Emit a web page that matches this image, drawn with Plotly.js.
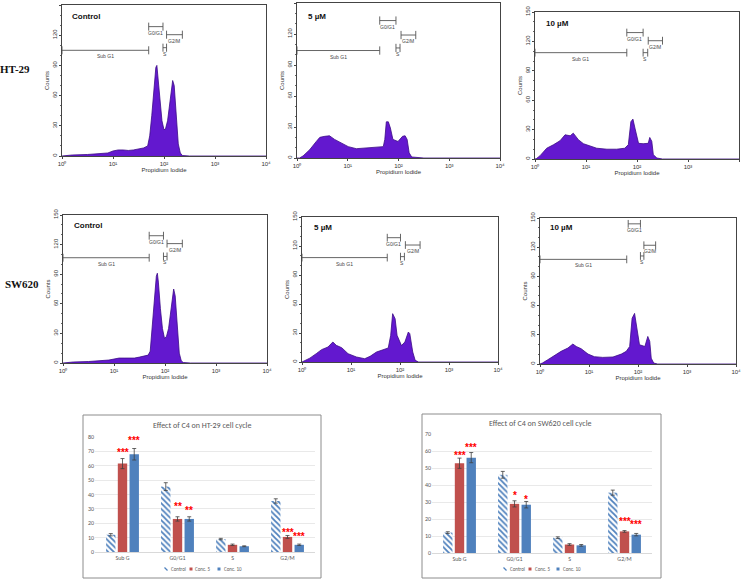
<!DOCTYPE html>
<html><head><meta charset="utf-8">
<script src="https://cdn.plot.ly/plotly-3.0.1.min.js"></script>
<style>html,body{margin:0;padding:0;background:#fff}#chart{width:743px;height:582px}</style>
</head><body><div id="chart"></div>
<script>
// ---------- Flow cytometry histograms (x = log10 of Propidium Iodide channel, y = counts) ----------
const ht29CtrlLogPI = [0,0.2,0.5,0.7,0.9,1.0,1.1,1.2,1.3,1.4,1.5,1.6,1.68,1.72,1.76,1.8,1.84,1.86,1.88,1.92,1.96,2.0,2.03,2.07,2.1,2.14,2.17,2.2,2.24,2.28,2.32,2.36,2.5,4];
const ht29CtrlCounts = [0,1,1.5,2,3,5,6,6,5.5,6,7,8,10,20,40,65,88,90,80,55,35,26,27,35,48,65,75,70,40,12,3,0.5,0,0];

const ht29C5LogPI = [0,0.05,0.12,0.25,0.38,0.45,0.55,0.64,0.74,0.88,1.01,1.17,1.37,1.57,1.70,1.73,1.76,1.80,1.84,1.89,1.99,2.08,2.13,2.17,2.21,2.26,2.36,2.5,4];
const ht29C5Counts = [0,0,2,8,16,20,21,21.5,18,14,11,9,10,11,11,18,35,35,29,18,16,21,21.5,18,5,1,0.5,0,0];

const ht29C10LogPI = [0,0.03,0.1,0.23,0.36,0.49,0.59,0.69,0.75,0.85,0.95,1.08,1.21,1.41,1.6,1.76,1.83,1.88,1.92,1.96,2.03,2.12,2.22,2.25,2.29,2.32,2.39,2.5,4];
const ht29C10Counts = [0,0.5,3.4,11,14.5,18.6,24.7,23.7,26.4,19.7,15.6,13,11,10,10,11,14.6,38,40.7,31.5,16,15.6,16,22,18,4.4,1,0,0];

const sw620CtrlLogPI = [0,0.2,0.5,0.7,0.9,1.0,1.1,1.2,1.3,1.4,1.5,1.6,1.67,1.71,1.75,1.79,1.83,1.85,1.87,1.91,1.95,1.99,2.03,2.07,2.1,2.14,2.17,2.2,2.24,2.28,2.32,2.36,2.5,4];
const sw620CtrlCounts = [0,1,1.5,2,3,4,5,5,5,5,6,7,8,12,35,65,88,91,82,55,35,25,27,35,48,66,75,68,38,10,2,0.5,0,0];

const sw620C5LogPI = [0,0.05,0.16,0.29,0.40,0.53,0.63,0.70,0.81,0.94,1.11,1.28,1.39,1.52,1.66,1.76,1.81,1.85,1.90,1.94,2.03,2.10,2.17,2.20,2.26,2.31,2.38,2.5,4];
const sw620C5Counts = [0,1,4,8.6,12.8,15.5,20.7,17.2,14.8,8.6,5.2,3.4,5.9,10.3,13,14.5,27.6,50,44.8,27.6,17,20.7,31,29.3,10.3,1.7,0,0,0];

const sw620C10LogPI = [0,0.05,0.16,0.29,0.43,0.57,0.67,0.74,0.84,0.98,1.11,1.28,1.49,1.66,1.76,1.83,1.88,1.93,1.98,2.03,2.14,2.20,2.24,2.27,2.32,2.4,4];
const sw620C10Counts = [0,1,4.4,8.9,13,16.4,20.5,18,15.7,10.2,7.5,6.8,7.2,10.2,13,18,47,52,36.9,19.8,18,28.3,23.2,6,1,0,0];

// Gates: [start log10, end log10, counts level] for Sub G1, G0/G1, S, G2/M
const gateNames = ['Sub G1','G0/G1','S','G2/M'];
const ht29CtrlGates  = [[0,1.70,105],[1.70,1.98,128.5],[1.98,2.05,107.6],[2.05,2.36,120.5]];
const ht29C5Gates    = [[0,1.63,104],[1.63,1.95,133],[1.95,2.03,106.5],[2.05,2.34,119]];
const ht29C10Gates   = [[0,1.80,108.5],[1.80,2.12,129],[2.12,2.21,108.5],[2.22,2.50,120.7]];
const sw620CtrlGates = [[0,1.69,106.7],[1.69,1.97,129],[1.97,2.04,108],[2.04,2.34,121]];
const sw620C5Gates   = [[0,1.74,108],[1.74,2.01,128.6],[2.01,2.09,109],[2.11,2.41,121]];
const sw620C10Gates  = [[0,1.77,107.5],[1.80,2.05,144],[2.05,2.12,111],[2.12,2.36,122]];

const panelLabels = ['Control','5 µM','10 µM','Control','5 µM','10 µM'];
const rowLabels = ['HT-29','SW620'];
const decadeTickVals = [1,10,100,1000,10000];
const decadeTickText = ['10⁰','10¹','10²','10³','10⁴'];
const countTicks = [0,30,60,90,120,150];

// ---------- Bar charts ----------
const phases = ['Sub G','G0/G1','S','G2/M'];
const seriesNames = ['Control','Conc. 5','Conc. 10'];
const ht29Control = [12,45.5,9,35.5];
const ht29Conc5   = [61.5,23,5,10.5];
const ht29Conc10  = [68,23,4,5];
const ht29ControlErr = [0.8,2.7,0.5,1.5];
const ht29Conc5Err   = [3.5,1.5,0.5,1];
const ht29Conc10Err  = [4,1.5,0.3,0.5];
const ht29Conc5Stars  = ['***','**','','***'];
const ht29Conc5StarY  = [70.7,33,0,15];
const ht29Conc10Stars = ['***','**','','***'];
const ht29Conc10StarY = [78.8,30,0,12];

const sw620Control = [12,46,9,35.5];
const sw620Conc5   = [52.8,28.9,5,12.7];
const sw620Conc10  = [56.1,28.4,4.5,10.8];
const sw620ControlErr = [0.5,2,0.5,1.5];
const sw620Conc5Err   = [3,1.8,0.5,0.5];
const sw620Conc10Err  = [3,1.9,0.5,0.7];
const sw620Conc5Stars  = ['***','*','','***'];
const sw620Conc5StarY  = [58.3,35,0,20];
const sw620Conc10Stars = ['***','*','','***'];
const sw620Conc10StarY = [63.2,32.5,0,18];

// ---------- layout helpers ----------
const W = 743, H = 582;
const px = v => v / W;
const py = v => 1 - v / H;
const HIST_FILL = '#6318cf', HIST_LINE = '#3b0a86';
const SANS = 'Liberation Sans, Arial, sans-serif';

const histPanels = [
  {lp: ht29CtrlLogPI,  c: ht29CtrlCounts,  g: ht29CtrlGates,  box:[62,266,5,156],   lab:[70,16]},
  {lp: ht29C5LogPI,    c: ht29C5Counts,    g: ht29C5Gates,    box:[297,500,3,158],  lab:[306,16]},
  {lp: ht29C10LogPI,   c: ht29C10Counts,   g: ht29C10Gates,   box:[535,739,12,159], lab:[544,24]},
  {lp: sw620CtrlLogPI, c: sw620CtrlCounts, g: sw620CtrlGates, box:[63,267,215,363], lab:[72,226]},
  {lp: sw620C5LogPI,   c: sw620C5Counts,   g: sw620C5Gates,   box:[302,498,217,362],lab:[312,228]},
  {lp: sw620C10LogPI,  c: sw620C10Counts,  g: sw620C10Gates,  box:[540,736,218,364],lab:[548,228]}
];

const data = [];
const layout = {
  width: W, height: H, margin:{l:0,r:0,t:0,b:0},
  paper_bgcolor:'#fff', plot_bgcolor:'#fff',
  showlegend: false,
  font:{family:SANS, color:'#333'},
  shapes: [], annotations: []
};

histPanels.forEach((p, i) => {
  const n = i + 1;
  const xa = 'xaxis' + n, ya = 'yaxis' + n;
  data.push({
    type:'scatter', mode:'lines', xaxis:'x'+n, yaxis:'y'+n,
    x: p.lp.map(e => Math.pow(10, e)), y: p.c,
    fill:'tozeroy', fillcolor:HIST_FILL,
    line:{color:HIST_LINE, width:0.8, shape:'linear'},
    showlegend:false, hoverinfo:'skip'
  });
  layout[xa] = {
    type:'log', range:[0,4], domain:[px(p.box[0]), px(p.box[1])], anchor:'y'+n,
    showgrid:false, zeroline:false, showline:true, mirror:true, linecolor:'#444', linewidth:1,
    ticks:'outside', ticklen:2, tickcolor:'#444',
    tickvals: decadeTickVals, ticktext: decadeTickText,
    tickfont:{size:6, color:'#333'},
    title:{text:'Propidium Iodide', font:{size:6, color:'#333'}, standoff:1}
  };
  layout[ya] = {
    range:[0,150], domain:[py(p.box[3]), py(p.box[2])], anchor:'x'+n,
    showgrid:false, zeroline:false, showline:true, mirror:true, linecolor:'#444', linewidth:1,
    ticks:'outside', ticklen:2, tickcolor:'#444',
    tickvals: countTicks, tickangle:-90,
    tickfont:{size:6, color:'#333'},
    minor:{ticks:'outside', ticklen:1, dtick:10, tickcolor:'#666'},
    title:{text:'Counts', font:{size:6, color:'#333'}, standoff:1}
  };
  // gate markers (shape coordinates on a log axis are channel values)
  p.g.forEach((gt, k) => {
    const [a, b, lvl] = gt;
    const xa0 = Math.pow(10, a), xb0 = Math.pow(10, b);
    const ln = {color:'#555', width:0.9};
    layout.shapes.push({type:'line', xref:'x'+n, yref:'y'+n, x0:xa0, x1:xb0, y0:lvl, y1:lvl, line:ln});
    layout.shapes.push({type:'line', xref:'x'+n, yref:'y'+n, x0:xa0, x1:xa0, y0:lvl-4, y1:lvl+4, line:ln});
    layout.shapes.push({type:'line', xref:'x'+n, yref:'y'+n, x0:xb0, x1:xb0, y0:lvl-4, y1:lvl+4, line:ln});
    layout.annotations.push({
      xref:'x'+n, yref:'y'+n, x:(a+b)/2, y:lvl, yanchor:'top', xanchor:'center', yshift:-1,
      text:gateNames[k], showarrow:false, font:{size:5, color:'#444', family:SANS}
    });
  });
  layout.annotations.push({
    xref:'paper', yref:'paper', x:px(p.lab[0]), y:py(p.lab[1]), xanchor:'left', yanchor:'middle',
    text:panelLabels[i], showarrow:false, font:{size:8, weight:'bold', color:'#111', family:SANS}
  });
});

// row labels
[[15,69],[22,284]].forEach((pos, k) => {
  layout.annotations.push({
    xref:'paper', yref:'paper', x:px(pos[0]), y:py(pos[1]), xanchor:'center', yanchor:'middle',
    text:rowLabels[k], showarrow:false,
    font:{size:11, weight:'bold', color:'#111', family:'Liberation Serif, Times New Roman, serif'}
  });
});

// ---------- bar charts ----------
const RED = '#C0504D', BLUE = '#4F81BD', GREY = '#595959';
const BARGAP = 0.36, GROUPGAP = 0.2;
const CAL = 'Carlito, Liberation Sans, Arial';
const barCharts = [
  {ax:7, ctrl:ht29Control, c5:ht29Conc5, c10:ht29Conc10,
   e:[ht29ControlErr, ht29Conc5Err, ht29Conc10Err],
   s5:ht29Conc5Stars, s5y:ht29Conc5StarY, s10:ht29Conc10Stars, s10y:ht29Conc10StarY,
   plot:[95,315,437,552], yr:[0,80], frame:[83,321,415,578],
   title:'Effect of C4 on HT-29 cell cycle', titleXY:[202,425], legX:[166,191,219], legY:569},
  {ax:8, ctrl:sw620Control, c5:sw620Conc5, c10:sw620Conc10,
   e:[sw620ControlErr, sw620Conc5Err, sw620Conc10Err],
   s5:sw620Conc5Stars, s5y:sw620Conc5StarY, s10:sw620Conc10Stars, s10y:sw620Conc10StarY,
   plot:[432,652,434,553], yr:[0,70], frame:[422,661,414,578],
   title:'Effect of C4 on SW620 cell cycle', titleXY:[540,423], legX:[505,530,558], legY:569}
];

barCharts.forEach(bc => {
  const n = bc.ax;
  const common = {type:'bar', x:phases, xaxis:'x'+n, yaxis:'y'+n, hoverinfo:'skip', showlegend:false};
  const errStyle = arr => ({type:'data', array:arr, visible:true, color:'#404040', thickness:0.8, width:2});
  data.push(Object.assign({}, common, {
    name:seriesNames[0], y:bc.ctrl, error_y:errStyle(bc.e[0]),
    marker:{color:'#ffffff', pattern:{shape:'\\', fgcolor:BLUE, bgcolor:'#ffffff', size:4, solidity:0.45}, line:{width:0}}
  }));
  data.push(Object.assign({}, common, {
    name:seriesNames[1], y:bc.c5, error_y:errStyle(bc.e[1]), marker:{color:RED, line:{width:0}}
  }));
  data.push(Object.assign({}, common, {
    name:seriesNames[2], y:bc.c10, error_y:errStyle(bc.e[2]), marker:{color:BLUE, line:{width:0}}
  }));
  layout['xaxis'+n] = {
    domain:[px(bc.plot[0]), px(bc.plot[1])], anchor:'y'+n, type:'category',
    showgrid:false, zeroline:false, showline:true, linecolor:'#d9d9d9', linewidth:1,
    ticks:'', tickfont:{size:6, color:GREY, family:CAL}
  };
  layout['yaxis'+n] = {
    domain:[py(bc.plot[3]), py(bc.plot[2])], anchor:'x'+n, range:bc.yr, dtick:10,
    showgrid:true, gridcolor:'#e4e4e4', gridwidth:0.8, zeroline:false, showline:false,
    ticks:'', tickfont:{size:6, color:GREY, family:CAL}
  };
  layout.shapes.push({type:'rect', xref:'paper', yref:'paper',
    x0:px(bc.frame[0]), x1:px(bc.frame[1]), y0:py(bc.frame[3]), y1:py(bc.frame[2]),
    line:{color:'#8c8c8c', width:1}, fillcolor:'rgba(0,0,0,0)', layer:'below'});
  layout.annotations.push({xref:'paper', yref:'paper', x:px(bc.titleXY[0]), y:py(bc.titleXY[1]),
    xanchor:'center', yanchor:'middle', text:bc.title, showarrow:false,
    font:{size:8, color:GREY, family:CAL}});
  // legend (small key marks + labels)
  const keyColors = [null, RED, BLUE];
  bc.legX.forEach((lx, k) => {
    if (k === 0) {
      layout.shapes.push({type:'line', xref:'paper', yref:'paper',
        x0:px(lx-1.5), x1:px(lx+1.5), y0:py(bc.legY-1.5), y1:py(bc.legY+1.5), line:{color:BLUE, width:1.2}});
    } else {
      layout.shapes.push({type:'rect', xref:'paper', yref:'paper',
        x0:px(lx-1.5), x1:px(lx+1.5), y0:py(bc.legY+1.5), y1:py(bc.legY-1.5),
        line:{width:0}, fillcolor:keyColors[k]});
    }
    layout.annotations.push({xref:'paper', yref:'paper', x:px(lx+2.5), y:py(bc.legY), xanchor:'left', yanchor:'middle',
      text:seriesNames[k], showarrow:false, font:{size:5, color:GREY, family:CAL}});
  });
  // significance stars
  const catW = (bc.plot[1] - bc.plot[0]) / phases.length;
  const slot = catW * (1 - BARGAP) / 3;
  [[bc.s5, bc.s5y, 0], [bc.s10, bc.s10y, slot]].forEach(([txt, ys, shift]) => {
    txt.forEach((t, k) => {
      if (!t) return;
      layout.annotations.push({xref:'x'+n, yref:'y'+n, x:phases[k], y:ys[k], xshift:shift, yshift:-2,
        xanchor:'center', yanchor:'middle', text:t, showarrow:false,
        font:{size:10, weight:'bold', color:'#ff0000', family:SANS}});
    });
  });
});
layout.barmode = 'group';
layout.bargap = BARGAP;
layout.bargroupgap = GROUPGAP;

Plotly.newPlot('chart', data, layout, {staticPlot:true, displayModeBar:false});
</script></body></html>
